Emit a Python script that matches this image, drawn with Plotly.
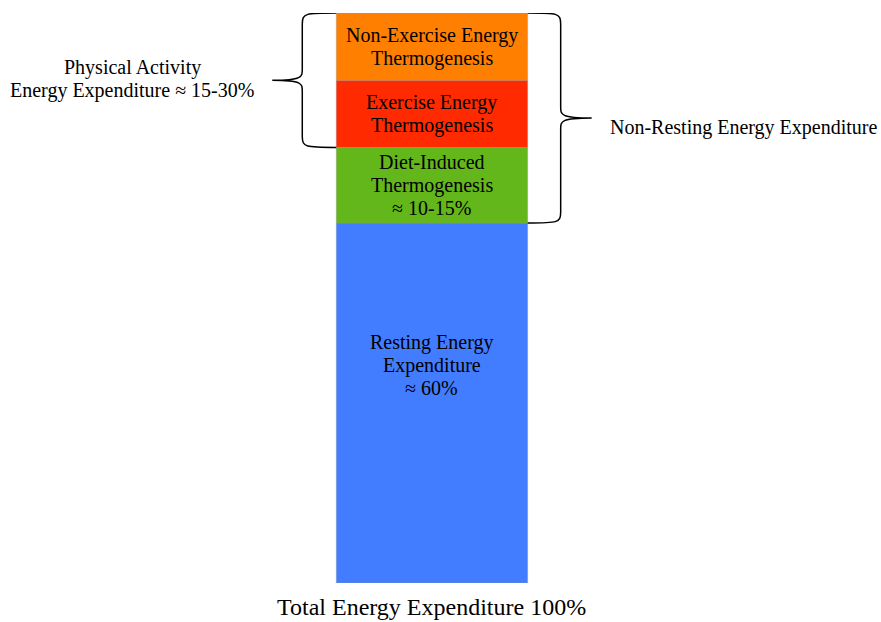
import plotly.graph_objects as go

# Components of total daily energy expenditure (percent of total)
components = ["Resting Energy Expenditure", "Diet-Induced Thermogenesis",
              "Exercise Energy Thermogenesis", "Non-Exercise Energy Thermogenesis"]
shares = [60.0, 12.6, 11.2, 11.2]
labels = ["Resting Energy<br>Expenditure<br>≈ 60%",
          "Diet-Induced<br>Thermogenesis<br>≈ 10-15%",
          "Exercise Energy<br>Thermogenesis",
          "Non-Exercise Energy<br>Thermogenesis"]
colors = ["#437DFF", "#63B71B", "#FF2A00", "#FF8000"]

FONT = "Liberation Serif"
FS = 20
LINE = 23  # line spacing in px
W, H = 881, 622
M_T, M_B = 13, 39
X_RANGE = [-2.257, 2.346]
total = sum(shares)

fig = go.Figure()
bases = []
acc = 0.0
for name, val, col in zip(components, shares, colors):
    bases.append(acc)
    fig.add_trace(go.Bar(x=[0], y=[val], base=[acc], width=1.0, name=name,
                         marker=dict(color=col, line=dict(width=0.6, color="rgba(150,150,150,0.6)")),
                         hoverinfo="name"))
    acc += val

# pixel -> data conversion factors
px_x = W / (X_RANGE[1] - X_RANGE[0])
px_y = (H - M_T - M_B) / total
dx = lambda p: p / px_x
dy = lambda p: p / px_y


def brace(x_edge, y_lo, y_hi, side, spine_px, tip_px, r_px=11):
    """Curly brace from y_lo to y_hi opening toward x_edge; side=-1 left, +1 right."""
    s = x_edge + side * dx(spine_px)
    t = x_edge + side * dx(tip_px)
    ym = (y_lo + y_hi) / 2
    ry = dy(r_px)
    k = dx(spine_px) * 0.9
    p = f"M {x_edge} {y_hi} "
    p += f"C {x_edge + side * k} {y_hi}, {s} {y_hi}, {s} {y_hi - ry} "
    p += f"L {s} {ym + ry} "
    p += f"C {s} {ym + ry * 0.3}, {s} {ym}, {t} {ym} "
    p += f"C {s} {ym}, {s} {ym - ry * 0.3}, {s} {ym - ry} "
    p += f"L {s} {y_lo + ry} "
    p += f"C {s} {y_lo}, {x_edge + side * k} {y_lo}, {x_edge} {y_lo}"
    return p


def text_block(x, y, text, size=FS, xanchor="center"):
    """Multi-line text centred on (x, y) with fixed line spacing."""
    lines = text.split("<br>")
    n = len(lines)
    for i, ln in enumerate(lines):
        fig.add_annotation(x=x, y=y, yshift=((n - 1) / 2 - i) * LINE, text=ln,
                           showarrow=False, xanchor=xanchor,
                           font=dict(family=FONT, size=size, color="black"),
                           xref="x", yref="y")


# Physical activity brace (exercise + non-exercise)
pa_lo = bases[2]
fig.add_shape(type="path", path=brace(-0.5, pa_lo, total, -1, 34, 64),
              line=dict(color="black", width=1.5), xref="x", yref="y")
# Non-resting brace (everything above resting)
nr_lo = bases[1]
fig.add_shape(type="path", path=brace(0.5, nr_lo, total, 1, 33, 64),
              line=dict(color="black", width=1.5), xref="x", yref="y")

# segment labels
label_frac = [0.605, 0.5, 0.5, 0.5]
for b, v, lab, f in zip(bases, shares, labels, label_frac):
    text_block(0, b + v * f, lab)

text_block(-0.5 - dx(64) - dx(140), (pa_lo + total) / 2 + dy(1),
           "Physical Activity<br>Energy Expenditure ≈ 15-30%")
text_block(0.5 + dx(80), (nr_lo + total) / 2 - dy(9),
           "Non-Resting Energy Expenditure", xanchor="left")
fig.add_annotation(x=0, y=0, yshift=-24, text="Total Energy Expenditure 100%",
                   showarrow=False, font=dict(family=FONT, size=24, color="black"),
                   xref="x", yref="y")

fig.update_layout(
    width=W, height=H, barmode="overlay", showlegend=False,
    margin=dict(l=0, r=0, t=M_T, b=M_B),
    plot_bgcolor="white", paper_bgcolor="white",
    xaxis=dict(range=X_RANGE, visible=False, fixedrange=True),
    yaxis=dict(range=[0, total], visible=False, fixedrange=True),
)

fig.write_html("out.html")
